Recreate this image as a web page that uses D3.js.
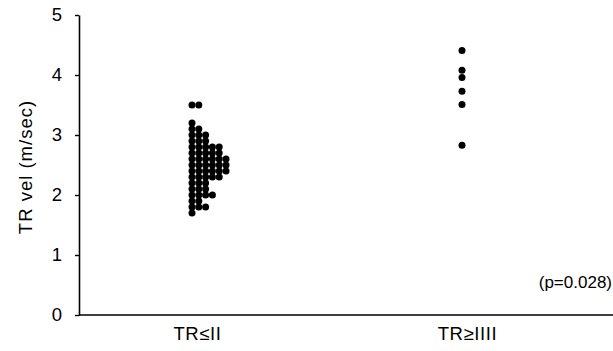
<!DOCTYPE html>
<html>
<head>
<meta charset="utf-8">
<script src="https://cdn.jsdelivr.net/npm/d3@7"></script>
<style>
  body { margin: 0; background: #fff; }
  svg { display: block; font-family: "Liberation Sans", Arial, sans-serif; }
</style>
</head>
<body>
<div id="chart"></div>
<script>
// categories and y ticks
const categories = ["TR≤II", "TR≥IIII"];
const yTicks = [0, 1, 2, 3, 4, 5];

// TR≤II group (m/sec)
const lowGrade = [
    3.5, 3.5,
    3.2,
    3.1, 3.1,
    3.0, 3.0, 3.0,
    2.9, 2.9, 2.9,
    2.8, 2.8, 2.8, 2.8, 2.8,
    2.7, 2.7, 2.7, 2.7, 2.7,
    2.6, 2.6, 2.6, 2.6, 2.6, 2.6,
    2.5, 2.5, 2.5, 2.5, 2.5, 2.5,
    2.4, 2.4, 2.4, 2.4, 2.4, 2.4,
    2.3, 2.3, 2.3, 2.3, 2.3,
    2.2, 2.2, 2.2,
    2.1, 2.1, 2.1,
    2.0, 2.0, 2.0, 2.0,
    1.9, 1.9,
    1.8, 1.8, 1.8,
    1.7
];

// TR≥IIII group
const highGrade = [4.41, 4.08, 3.96, 3.73, 3.51, 2.83];

const pLabel = "(p=0.028)";
const yTitle = "TR vel (m/sec)";

const width = 613, height = 351;
const margin = { top: 15, right: 0, bottom: 36, left: 79 };
const fontSize = 18.5;
const spacing = "0.6px";

const svg = d3.select("#chart").append("svg")
    .attr("width", width)
    .attr("height", height);

const x = d3.scalePoint()
    .domain(categories)
    .range([197, 467]);

const y = d3.scaleLinear()
    .domain([0, 5])
    .range([height - margin.bottom, margin.top]);

// y axis
svg.append("g")
    .attr("transform", `translate(${margin.left},0)`)
    .call(d3.axisLeft(y).tickValues(yTicks).tickFormat(d3.format("d")).tickSize(4).tickSizeOuter(0).tickPadding(13))
    .call(g => g.select(".domain").attr("stroke-width", 1.6))
    .call(g => g.selectAll(".tick line").attr("stroke-width", 1.4))
    .call(g => g.selectAll(".tick text")
        .attr("font-size", fontSize)
        .attr("font-family", "Liberation Sans, Arial, sans-serif")
        .attr("fill", "#000"));

// x axis: plain baseline with category labels
svg.append("g")
    .attr("transform", `translate(0,${y(0)})`)
    .call(d3.axisBottom(x).tickSize(0).tickPadding(12))
    .call(g => g.select(".domain")
        .attr("d", `M${margin.left},0H${width - margin.right}`)
        .attr("stroke-width", 1.6))
    .call(g => g.selectAll(".tick text")
        .attr("font-size", fontSize)
        .attr("font-family", "Liberation Sans, Arial, sans-serif")
        .style("letter-spacing", spacing)
        .attr("fill", "#000"));

// y title
svg.append("text")
    .attr("transform", `translate(32,167) rotate(-90)`)
    .attr("text-anchor", "middle")
    .attr("font-size", fontSize)
    .style("letter-spacing", "1px")
    .text(yTitle);

// stacked dots: identical values laid side by side from the left edge
const dotR = 3.5;
const dotStep = 6.8;

function stack(values, cat) {
    const pts = [];
    const counts = new Map();
    values.forEach(v => {
        const k = v.toFixed(2);
        const i = counts.get(k) || 0;
        counts.set(k, i + 1);
        pts.push({ cat, value: v, i });
    });
    return pts;
}

const points = stack(lowGrade, categories[0]).concat(stack(highGrade, categories[1]));

svg.append("g")
    .selectAll("circle")
    .data(points)
    .join("circle")
    .attr("cx", d => x(d.cat) - 5 + d.i * dotStep)
    .attr("cy", d => y(d.value))
    .attr("r", dotR)
    .attr("fill", "#000");

// p-value annotation
svg.append("text")
    .attr("x", width - 1)
    .attr("y", y(0.45))
    .attr("text-anchor", "end")
    .attr("font-size", 17)
    .text(pLabel);
</script>
</body>
</html>
